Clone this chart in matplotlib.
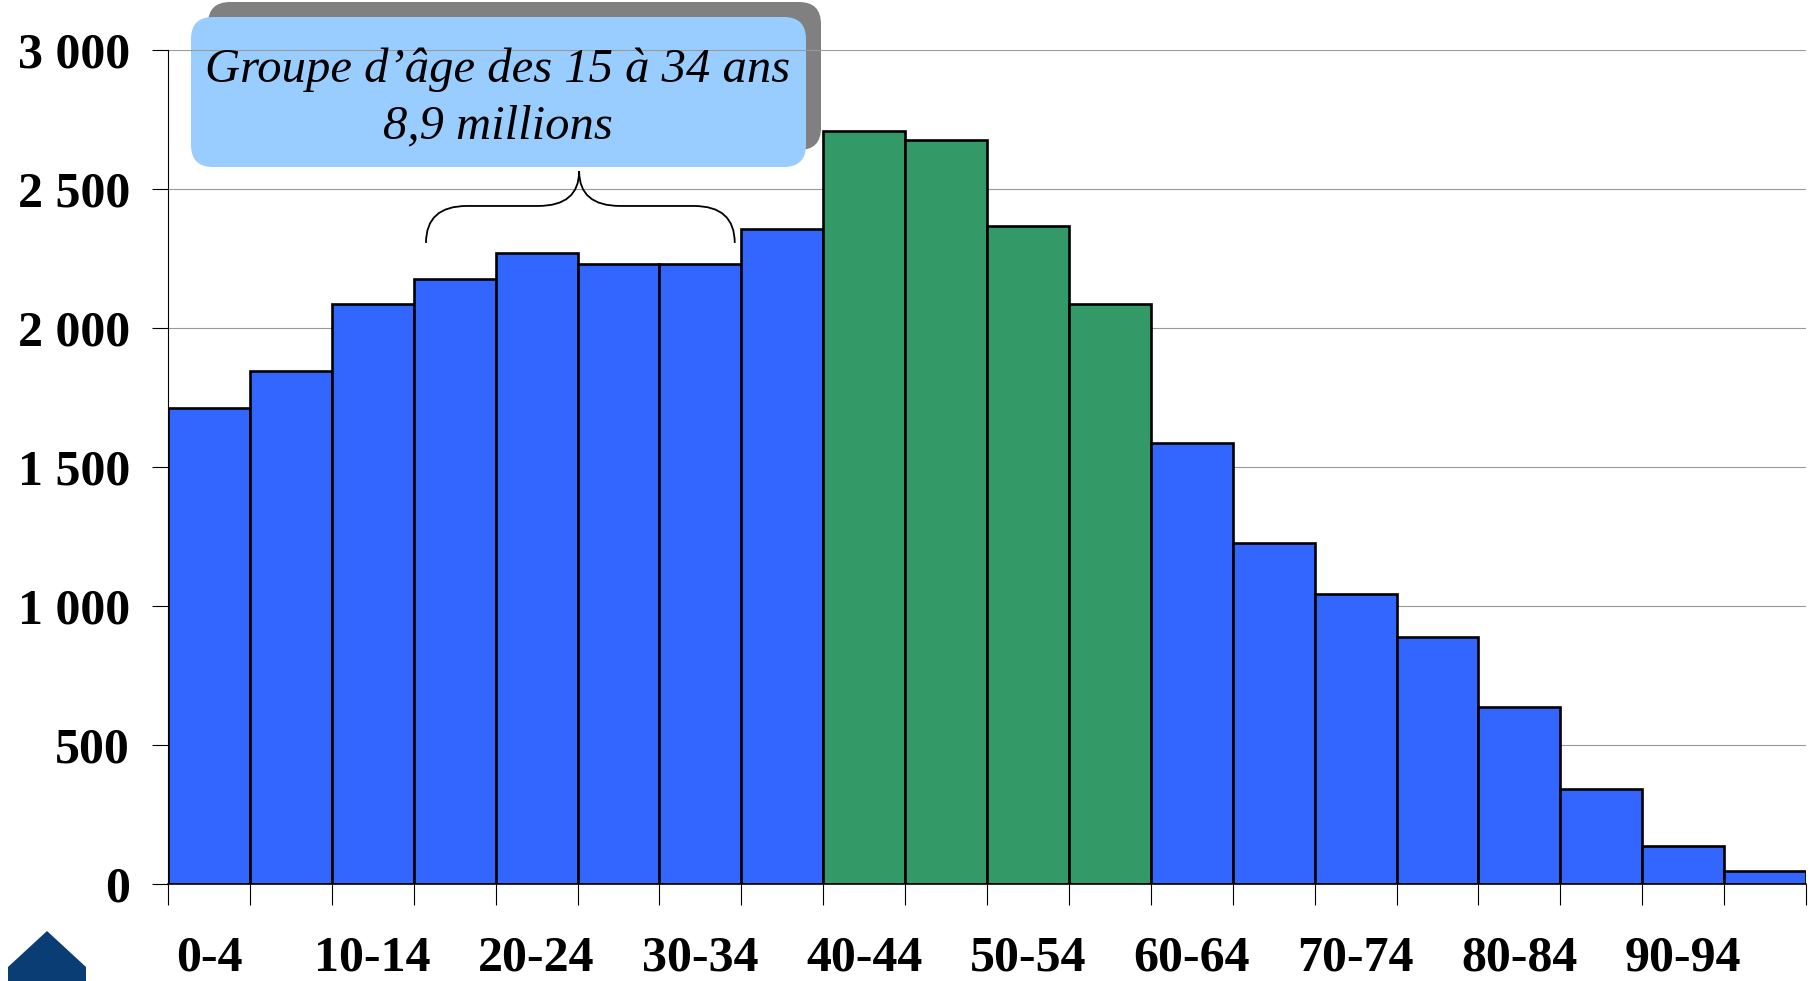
"""
Pyramide des âges (histogramme), milliers de personnes par groupe d'âge de 5 ans.
"""
import matplotlib
matplotlib.use("Agg")
import matplotlib.pyplot as plt
import numpy as np
from matplotlib.patches import FancyBboxPatch, Polygon, PathPatch
from matplotlib.path import Path
from matplotlib.transforms import IdentityTransform
from matplotlib.ticker import FuncFormatter, MultipleLocator

age_groups = ["0-4", "5-9", "10-14", "15-19", "20-24", "25-29", "30-34", "35-39",
              "40-44", "45-49", "50-54", "55-59", "60-64", "65-69", "70-74",
              "75-79", "80-84", "85-89", "90-94", "95+"]
population = [1712, 1845, 2086, 2177, 2269, 2231, 2231, 2356,
              2709, 2676, 2368, 2086, 1587, 1226, 1043,
              889, 636, 341, 137, 46]
highlighted = ["40-44", "45-49", "50-54", "55-59"]

callout_lines = ["Groupe d\u2019âge des 15 à 34 ans", "8,9 millions"]

BLUE = "#3366FF"
GREEN = "#339966"
SERIF = ["Liberation Serif", "DejaVu Serif"]

W, H = 1813, 981
fig = plt.figure(figsize=(W / 100, H / 100), dpi=100)
ax = fig.add_axes([168 / W, 1 - 884 / H, (1806 - 168) / W, (884 - 50) / H])

x = np.arange(len(age_groups))
colors = [GREEN if g in highlighted else BLUE for g in age_groups]
ax.bar(x + 0.5, population, width=1.0, color=colors, edgecolor="black",
       linewidth=1.9, zorder=2)

ax.set_xlim(0, len(age_groups))
ax.set_ylim(0, 3000)

# y axis
ax.yaxis.set_major_locator(MultipleLocator(500))
ax.yaxis.set_major_formatter(FuncFormatter(lambda v, p: f"{int(v):,}".replace(",", " ")))
ax.tick_params(axis="y", length=11.5, width=0.8, pad=16)
ax.set_axisbelow(True)
ax.yaxis.grid(True, color="#999999", linewidth=0.8)

# x axis: ticks at bar edges, labels every other bar under the bar centre
ax.set_xticks(x[::2] + 0.5)
ax.set_xticklabels(age_groups[::2])
ax.set_xticks(np.arange(len(age_groups) + 1), minor=True)
ax.tick_params(axis="x", which="major", length=0, pad=37)
ax.tick_params(axis="x", which="minor", length=15, width=0.8)

for lbl in ax.get_xticklabels() + ax.get_yticklabels():
    lbl.set_family(SERIF)
    lbl.set_fontweight("bold")
    lbl.set_fontsize(36)

for s in ("top", "right"):
    ax.spines[s].set_visible(False)
ax.spines["left"].set_linewidth(0.8)
ax.spines["bottom"].set_linewidth(1.2)

# callout box (display pixels, y measured from the bottom)
ident = IdentityTransform()
shadow = FancyBboxPatch((208, H - 150), 613, 148,
                        boxstyle="round,pad=0,rounding_size=22",
                        fc="#808080", ec="none", transform=ident,
                        clip_on=False, zorder=0.2)
box = FancyBboxPatch((191, H - 167), 615, 150,
                     boxstyle="round,pad=0,rounding_size=22",
                     fc="#99CCFF", ec="none", transform=ident,
                     clip_on=False, zorder=0.3)
ax.add_patch(shadow)
ax.add_patch(box)
ax.text(498, H - 70, callout_lines[0], transform=ident, ha="center", va="center",
        family=SERIF, style="italic", fontsize=35, zorder=3)
ax.text(498, H - 126, callout_lines[1], transform=ident, ha="center", va="center",
        family=SERIF, style="italic", fontsize=35, zorder=3)

# curly brace over the 15-34 age bars (data coordinates)
xl, xm, xr = 3.15, 5.02, 6.92
yb, yh, yt = 2306, 2439, 2564
verts = [(xl, yb), (xl, yh), (xl + 0.5, yh),
         (xm - 0.5, yh), (xm, yh), (xm, yt),
         (xm, yh), (xm + 0.5, yh),
         (xr - 0.5, yh), (xr, yh), (xr, yb)]
codes = [Path.MOVETO, Path.CURVE3, Path.CURVE3,
         Path.LINETO, Path.CURVE3, Path.CURVE3,
         Path.CURVE3, Path.CURVE3,
         Path.LINETO, Path.CURVE3, Path.CURVE3]
ax.add_patch(PathPatch(Path(verts, codes), fc="none", ec="black", lw=1.3,
                       clip_on=False, zorder=3))

# logo fragment at bottom left
logo = Polygon([(8, 0), (8, 14), (47, 50), (86, 14), (86, 0)], closed=True,
               fc="#0B3D75", ec="none", transform=ident)
fig.patches.append(logo)

fig.savefig("out.png", dpi=100)
